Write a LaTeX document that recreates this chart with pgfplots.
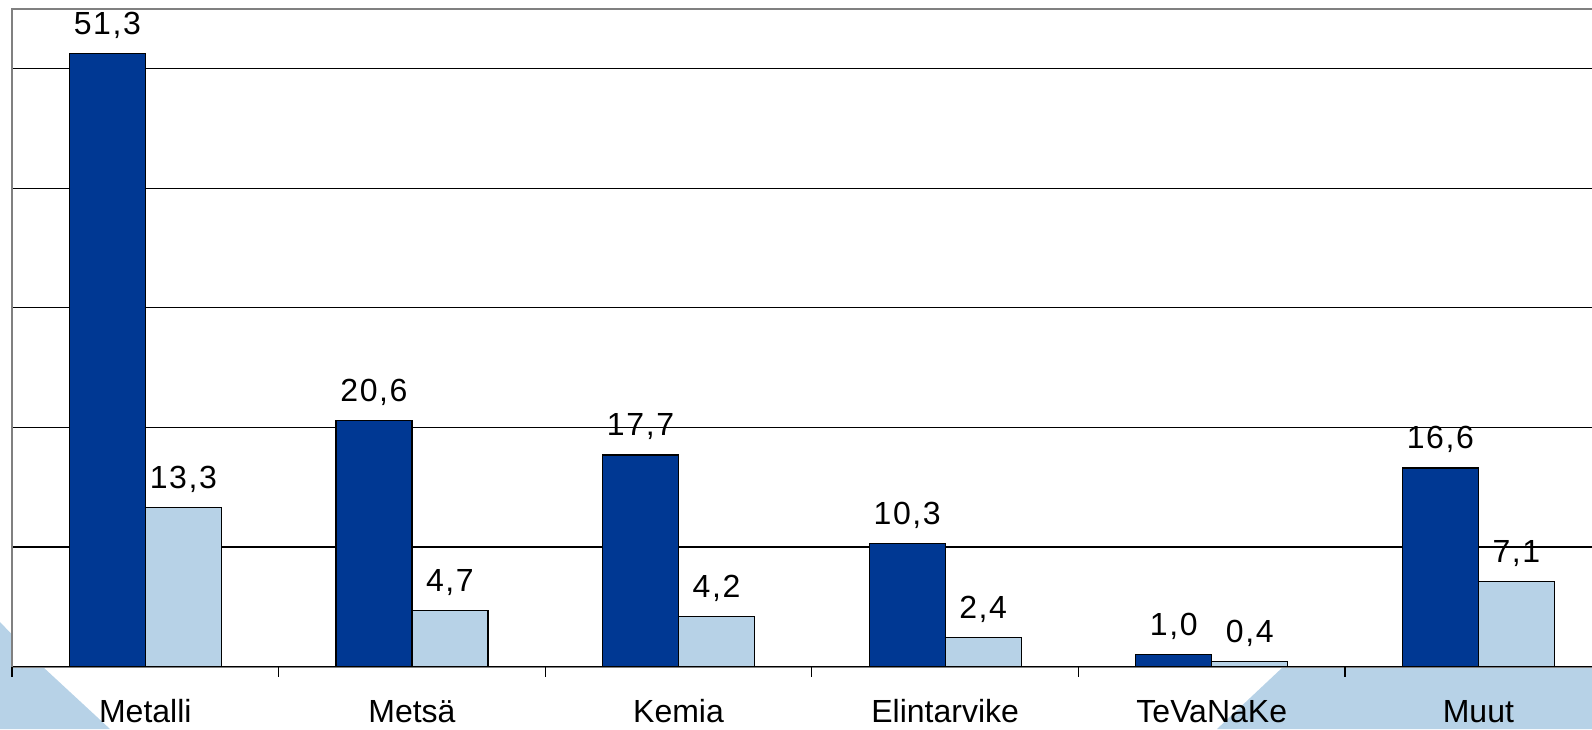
\documentclass[border=0pt]{standalone}
\usepackage{fontspec}
\setmainfont{Liberation Sans}
\newfontfamily\numfont[LetterSpace=5]{Liberation Sans}
\usepackage{pgfplots}
\pgfplotsset{compat=1.18}
\definecolor{dkblue}{HTML}{003893}
\definecolor{ltblue}{HTML}{B7D2E7}
\begin{document}
\begin{tikzpicture}
\fill[ltblue] (0,0) -- (0,53.5pt) -- (21.5pt,31pt) -- (55pt,0) -- cycle;
\fill[ltblue] (608.5pt,0) -- (641.5pt,31pt) -- (674.5pt,62pt) -- (800pt,62pt) -- (800pt,0) -- cycle;
\begin{axis}[
  at={(6pt,31.25pt)}, anchor=south west,
  scale only axis, width=799.85pt, height=328.75pt,
  xmin=0.5, xmax=6.5, ymin=0, ymax=55,
  clip=false,
  ybar=0pt, bar width=38pt,
  axis background/.style={fill=white, draw=gray, line width=1pt},
  axis x line*=bottom, axis y line*=left,
  x axis line style={black, line width=0.7pt},
  y axis line style={gray, line width=1pt},
  xtick={1,2,3,4,5,6},
  xticklabels={Metalli,Metsä,Kemia,Elintarvike,TeVaNaKe,Muut},
  minor xtick={0.5,1.5,2.5,3.5,4.5,5.5,6.5},
  ytick={10,20,30,40,50}, yticklabels={},
  major tick length=0pt, minor tick length=5pt, tick align=outside,
  minor tick style={black, line width=0.6pt},
  ymajorgrids, major grid style={black, line width=0.6pt},
  xticklabel style={font=\fontsize{16}{19}\selectfont, inner sep=0pt, text height=11.46pt, text depth=0pt, anchor=north, yshift=-16.3pt},
  nodes near coords,
  /pgf/number format/.cd, fixed, fixed zerofill, precision=1, use comma, assume math mode=true,
  /pgfplots/.cd,
  every node near coord/.append style={font=\numfont\fontsize{16}{19}\selectfont, inner sep=0pt, text depth=0pt, anchor=south, yshift=9.3pt, black},
]
\addplot[fill=dkblue, draw=black, line width=0.6pt] coordinates {(1,51.3) (2,20.6) (3,17.7) (4,10.3) (5,1.0) (6,16.6)};
\addplot[fill=ltblue, draw=black, line width=0.6pt] coordinates {(1,13.3) (2,4.7) (3,4.2) (4,2.4) (5,0.4) (6,7.1)};
\end{axis}
\pgfresetboundingbox
\useasboundingbox (0,0) rectangle (796pt,364.5pt);
\end{tikzpicture}
\end{document}
